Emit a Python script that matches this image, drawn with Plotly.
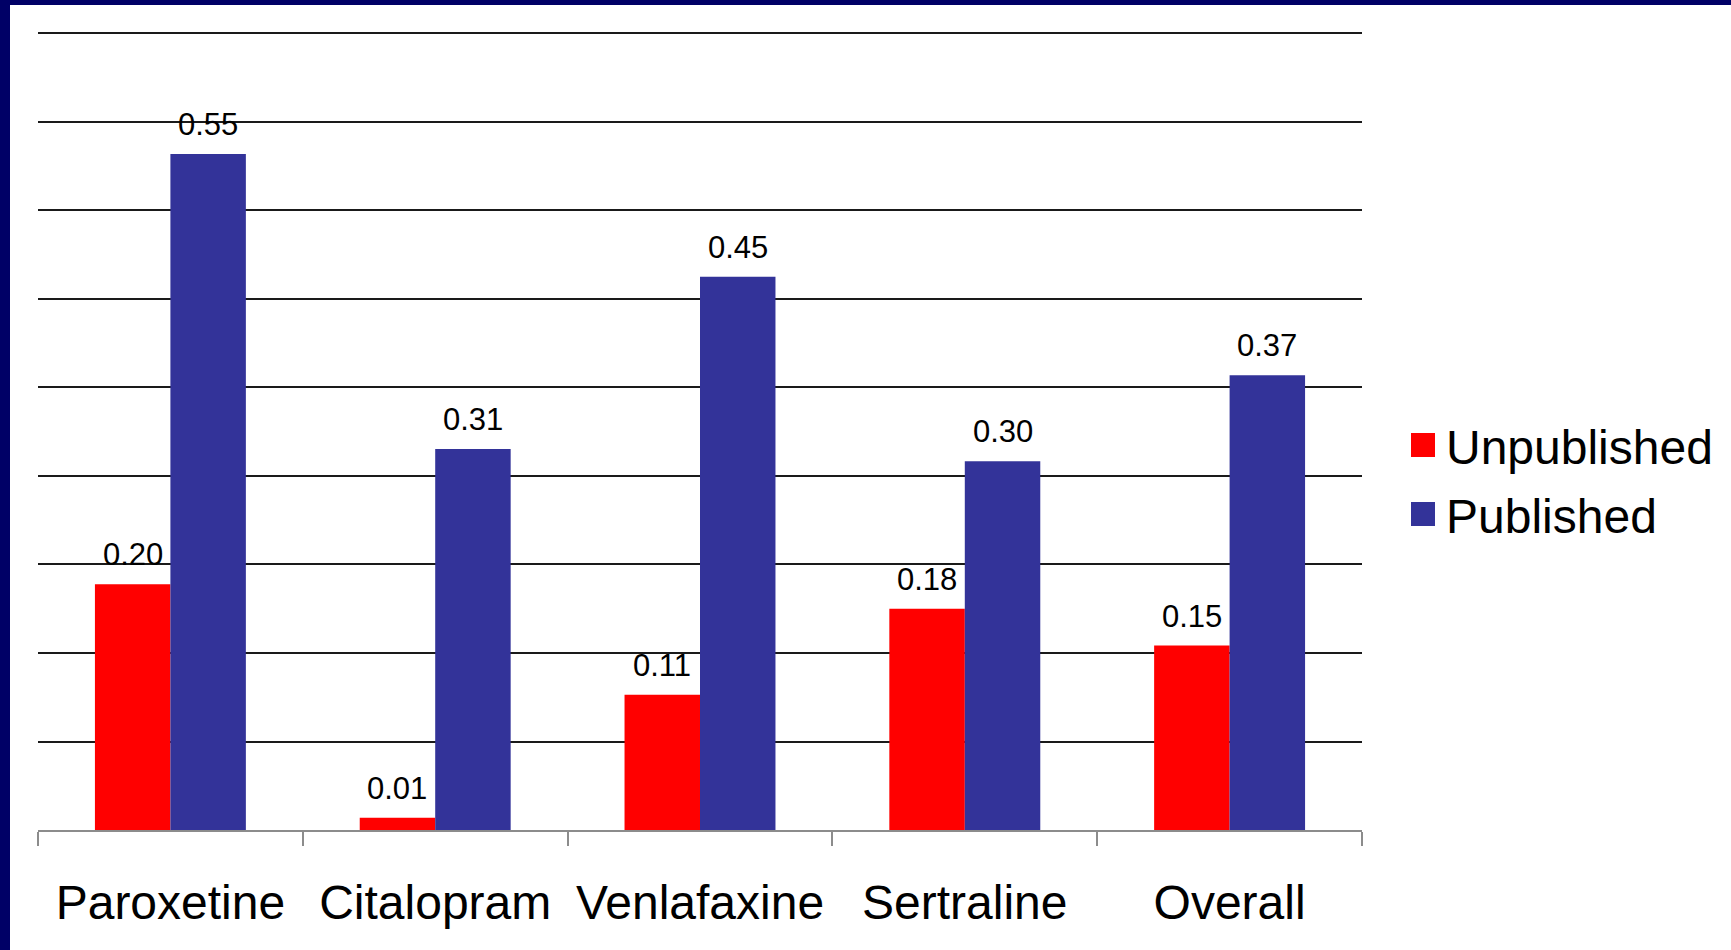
import plotly.graph_objects as go

# Data
drugs = ["Paroxetine", "Citalopram", "Venlafaxine", "Sertraline", "Overall"]
unpublished = [0.20, 0.01, 0.11, 0.18, 0.15]
published = [0.55, 0.31, 0.45, 0.30, 0.37]
series_names = ["Unpublished", "Published"]

# Styling
RED = "#FF0000"
BLUE = "#333399"
NAVY = "#000066"
FONT = "Arial, 'Liberation Sans', sans-serif"

W, H = 1731, 950
M_L, M_R, M_T, M_B = 38, 369, 31, 120
PW, PH = W - M_L - M_R, H - M_T - M_B
BARGAP = 0.43

Y_MAX = 0.650
GRID_STEP = 0.072
grid_levels = [GRID_STEP * k for k in range(1, 10)]

fig = go.Figure()
fig.add_trace(go.Bar(x=drugs, y=unpublished, name=series_names[0],
                     marker=dict(color=RED, line=dict(width=0)), showlegend=False))
fig.add_trace(go.Bar(x=drugs, y=published, name=series_names[1],
                     marker=dict(color=BLUE, line=dict(width=0)), showlegend=False))

# Value labels above each bar
half = (1 - BARGAP) / 4
annotations = []
for i, (u, p) in enumerate(zip(unpublished, published)):
    for val, off in ((u, -half), (p, half)):
        annotations.append(dict(
            x=i + off, y=val, xref="x", yref="y", text=f"{val:.2f}",
            showarrow=False, yanchor="bottom", xanchor="center", yshift=10,
            font=dict(family=FONT, size=31, color="black")))

# Legend drawn as squares and labels to the right of the plot
def px_x(px):
    return (px - M_L) / PW

def px_y(py):
    return 1 - (py - M_T) / PH

shapes = []
for name, color, top in ((series_names[0], RED, 433), (series_names[1], BLUE, 502)):
    shapes.append(dict(type="rect", xref="paper", yref="paper",
                       x0=px_x(1411), x1=px_x(1435), y0=px_y(top + 24), y1=px_y(top),
                       fillcolor=color, line=dict(width=0)))
    annotations.append(dict(x=px_x(1444), y=px_y(top + 12), xref="paper", yref="paper",
                            text=name, showarrow=False, xanchor="left", yanchor="middle",
                            yshift=-2, font=dict(family=FONT, size=48, color="black")))

# Navy frame along the left and top edges
shapes.append(dict(type="rect", xref="paper", yref="paper", layer="above",
                   x0=px_x(0), x1=px_x(10), y0=px_y(H), y1=px_y(0),
                   fillcolor=NAVY, line=dict(width=0)))
shapes.append(dict(type="rect", xref="paper", yref="paper", layer="above",
                   x0=px_x(0), x1=px_x(W), y0=px_y(5), y1=px_y(0),
                   fillcolor=NAVY, line=dict(width=0)))

fig.update_layout(
    width=W, height=H,
    margin=dict(l=M_L, r=M_R, t=M_T, b=M_B, pad=0),
    paper_bgcolor="white", plot_bgcolor="white",
    barmode="group", bargap=BARGAP, bargroupgap=0,
    font=dict(family=FONT, color="black"),
    annotations=annotations, shapes=shapes,
    xaxis=dict(
        type="category", tickson="boundaries", ticks="outside", ticklen=14,
        tickwidth=2, tickcolor="#8c8c8c", showline=True, linecolor="#8c8c8c",
        linewidth=2, showgrid=False, tickfont=dict(family=FONT, size=48, color="black"),
        ticklabelstandoff=29,
    ),
    yaxis=dict(
        range=[0, Y_MAX], tickvals=grid_levels, showticklabels=False, ticks="",
        showgrid=True, gridcolor="#1a1a1a", gridwidth=1.5, zeroline=False, showline=False,
    ),
)

fig.write_html("out.html")
